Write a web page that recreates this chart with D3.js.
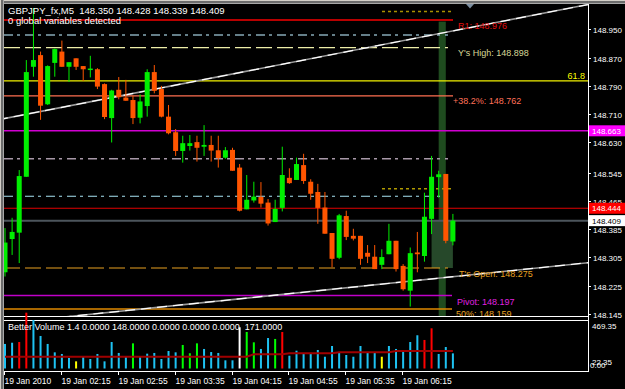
<!DOCTYPE html>
<meta charset="utf-8">
<style>
body { margin: 0; background: #000; }
svg { display: block; }
text { font-family: "Liberation Sans", Arial, sans-serif; font-size: 8px; fill: #fff; white-space: pre; }
</style>
<svg width="625" height="389"></svg>
<script src="https://cdn.jsdelivr.net/npm/d3@7"></script>
<script>

// ---- data ----
var symbol = "GBPJPY_fx,M5";

var open  = [148.263,148.357,148.375,148.533,148.844,148.877,148.738,148.855,148.887,148.844,148.868,148.846,148.835,148.837,148.795,148.699,
             148.779,148.757,148.750,148.700,148.733,148.829,148.781,148.703,148.659,148.606,148.620,148.631,148.618,148.623,148.608,148.587,
             148.609,148.559,148.441,148.466,148.476,148.460,148.405,148.445,148.530,148.524,148.566,148.519,148.490,148.446,148.374,148.304,
             148.422,148.366,148.366,148.318,148.307,148.284,148.314,148.352,148.281,148.211,148.319,148.309,148.414,148.532,148.541,148.350];
var high  = [148.388,148.417,148.552,148.863,149.010,148.887,148.848,148.896,148.918,148.857,148.868,148.846,148.875,148.840,148.797,148.779,
             148.815,148.807,148.762,148.766,148.837,148.849,148.790,148.736,148.668,148.649,148.651,148.649,148.679,148.649,148.649,148.617,
             148.615,148.569,148.538,148.519,148.518,148.470,148.468,148.618,148.557,148.587,148.598,148.526,148.513,148.490,148.374,148.428,
             148.437,148.386,148.366,148.340,148.340,148.328,148.400,148.352,148.286,148.333,148.377,148.488,148.592,148.550,148.541,148.428];
var low   = [148.251,148.312,148.289,148.533,148.816,148.694,148.736,148.816,148.844,148.801,148.835,148.804,148.814,148.781,148.696,148.630,
             148.752,148.748,148.682,148.684,148.703,148.769,148.701,148.653,148.592,148.573,148.607,148.576,148.592,148.576,148.559,148.584,
             148.550,148.435,148.441,148.460,148.446,148.395,148.405,148.435,148.513,148.524,148.513,148.468,148.400,148.372,148.277,148.300,
             148.354,148.353,148.284,148.289,148.272,148.272,148.314,148.265,148.211,148.166,148.263,148.293,148.371,148.474,148.345,148.339];
var close = [148.347,148.377,148.535,148.829,148.863,148.734,148.846,148.894,148.844,148.857,148.844,148.837,148.839,148.788,148.702,148.777,
             148.758,148.748,148.699,148.746,148.829,148.776,148.703,148.656,148.606,148.628,148.628,148.615,148.623,148.607,148.586,148.608,
             148.550,148.437,148.468,148.477,148.457,148.401,148.442,148.538,148.515,148.569,148.521,148.485,148.445,148.372,148.301,148.424,
             148.363,148.358,148.301,148.307,148.272,148.306,148.352,148.272,148.215,148.317,148.314,148.420,148.533,148.540,148.352,148.409];

var volume = [240,252,259,546,474,318,240,158,142,103,70,115,93,142,70,259,
              152,115,246,115,145,152,93,171,158,230,149,246,191,161,152,80,
              80,403,357,256,191,298,289,357,125,174,145,142,181,115,220,155,
              132,115,220,155,155,115,220,191,161,259,325,279,393,142,210,148];
var volType = ["b","b","r","r","b","b","b","b","b","b","y","b","b","b","b","b",
               "b","b","g","b","b","b","b","b","b","g","g","g","b","b","b","b",
               "b","w","g","g","b","b","g","r","b","b","b","b","b","b","b","b",
               "b","b","b","b","b","y","b","b","b","b","b","r","r","b","b","b"];
var volAvg = [115,115,115,115,115,115,115,115,115,115,115,115,115,115,115,115,
              115,115,115,115,115,115,115,115,115,115,115,115,115,115,115,115,
              115,115,115,139,139,139,139,139,149,149,149,149,149,149,149,158,
              158,158,158,158,158,158,158,171,171,171,171,171,171,171,171,171];
var volMax = 469.35;

var timeLabels = ["19 Jan 2010","19 Jan 02:15","19 Jan 02:55","19 Jan 03:35","19 Jan 04:15","19 Jan 04:55","19 Jan 05:35","19 Jan 06:15"];
var timeLabelBars = [0, 8, 16, 24, 32, 40, 48, 56];

var priceTicks = ["148.950","148.870","148.790","148.710","148.630","148.545","148.465","148.385","148.305","148.225","148.145"];

var levelNames  = ["R1","ddTop","YsHigh","fib618","fib382","magenta","ddMid","dotTop","dotLow","ddLow","ask","bid","TsOpen","Pivot","fib50"];
var levelPrices = [148.976,148.934,148.898,148.804,148.762,148.663,148.584,149.000,148.499,148.478,148.444,148.409,148.275,148.197,148.159];
var levelTexts  = ["R1: 148.976","","Y's High: 148.898","61.8","+38.2%: 148.762","","","","","","","","T's Open: 148.275","Pivot: 148.197","50%: 148.159"];

// trend lines: [bar, price] end points
var trendUpper = [[-1, 148.694], [82, 149.020]];
var trendLower = [[-1, 148.117], [82, 148.290]];

// ---- drawing ----
var svg = d3.select("svg");
svg.append("rect").attr("width", 625).attr("height", 389).attr("fill", "#000");

var x = d3.scaleLinear().domain([0, 63]).range([5, 452.9]);
var y = d3.scaleLinear().domain([148.145, 148.950]).range([314, 29.3]);
var yv = d3.scaleLinear().domain([0, volMax]).range([368.5, 320.5]);

var price = {};
levelNames.forEach(function(n, i) { price[n] = levelPrices[i]; });

svg.append("clipPath").attr("id", "main").append("rect")
    .attr("x", 4).attr("y", 4).attr("width", 584).attr("height", 312);
var main = svg.append("g").attr("clip-path", "url(#main)");

// current bar highlight and the open-to-last box
main.append("rect").attr("x", x(61)).attr("width", x(62) - x(61))
    .attr("y", y(price.R1) + 1.5).attr("height", 316 - y(price.R1))
    .attr("fill", "#1f4b1f");
main.append("rect").attr("x", x(60)).attr("width", x(63) - x(60))
    .attr("y", y(price.bid)).attr("height", y(price.TsOpen) - y(price.bid))
    .attr("fill", "#26482a");

var levelStyle = {
  R1:      {x1: 4,   x2: 453, c: "#b80000", w: 2},
  ddTop:   {x1: 4,   x2: 448, c: "#86a9b6", w: 1.5, d: "9,4,3,5"},
  YsHigh:  {x1: 4,   x2: 448, c: "#eeeea8", w: 1.2, d: "16,5"},
  fib618:  {x1: 4,   x2: 588, c: "#f0f000", w: 1.2},
  fib382:  {x1: 4,   x2: 453, c: "#ff6f50", w: 1.2},
  magenta: {x1: 4,   x2: 588, c: "#d000d0", w: 1.5},
  ddMid:   {x1: 4,   x2: 448, c: "#a898a8", w: 1.5, d: "9,4,3,5"},
  dotTop:  {x1: 382, x2: 453, c: "#a89000", w: 1.5, d: "3,3"},
  dotLow:  {x1: 382, x2: 453, c: "#b09a00", w: 1.5, d: "3,3"},
  ddLow:   {x1: 4,   x2: 448, c: "#a8e4f4", w: 1.2, d: "9,4,3,5"},
  ask:     {x1: 4,   x2: 588, c: "#e00000", w: 1},
  bid:     {x1: 4,   x2: 588, c: "#4c555c", w: 2},
  TsOpen:  {x1: 4,   x2: 448, c: "#e8a020", w: 1.2, d: "16,5"},
  Pivot:   {x1: 4,   x2: 452, c: "#c000c8", w: 1.5},
  fib50:   {x1: 4,   x2: 452, c: "#e08a00", w: 1.5}
};

levelNames.forEach(function(n) {
  var s = levelStyle[n];
  main.append("line")
      .attr("x1", s.x1).attr("x2", s.x2)
      .attr("y1", y(price[n])).attr("y2", y(price[n]))
      .attr("stroke", s.c).attr("stroke-width", s.w)
      .attr("stroke-dasharray", s.d || null);
});

// trend lines
var tline = d3.line().x(function(d) { return x(d[0]); }).y(function(d) { return y(d[1]); });
[trendUpper, trendLower].forEach(function(t) {
  main.append("path").attr("d", tline(t)).attr("fill", "none")
      .attr("stroke", "#9a9a9a").attr("stroke-width", 1.6);
  main.append("path").attr("d", tline(t)).attr("fill", "none")
      .attr("stroke", "#ffffff").attr("stroke-width", 1.2).attr("stroke-dasharray", "10,6");
});

// candles
var bull = "#00ee00", bear = "#ff5500";
var candles = main.selectAll("g.candle").data(d3.range(open.length)).enter().append("g");
candles.append("line")
    .attr("x1", function(i) { return x(i); }).attr("x2", function(i) { return x(i); })
    .attr("y1", function(i) { return y(high[i]); }).attr("y2", function(i) { return y(low[i]); })
    .attr("stroke", function(i) { return close[i] >= open[i] ? bull : bear; })
    .attr("stroke-width", 1);
candles.append("rect")
    .attr("x", function(i) { return x(i) - 2.5; }).attr("width", 5)
    .attr("y", function(i) { return y(Math.max(open[i], close[i])); })
    .attr("height", function(i) { return Math.max(1.5, Math.abs(y(open[i]) - y(close[i]))); })
    .attr("fill", function(i) { return close[i] >= open[i] ? bull : bear; });

// level labels
var labelStyle = {
  R1:     {x: 458, dy: 9,   c: "#e01010"},
  YsHigh: {x: 458, dy: 8.5, c: "#d8d898"},
  fib618: {x: 585, dy: -2,  c: "#ffff00", a: "end"},
  fib382: {x: 453, dy: 8.5, c: "#ff7058"},
  TsOpen: {x: 459, dy: 9,   c: "#e8a020"},
  Pivot:  {x: 457, dy: 9.5, c: "#e020e0"},
  fib50:  {x: 456, dy: 8,   c: "#e8a020"}
};
levelNames.forEach(function(n, i) {
  var s = labelStyle[n];
  if (!s) return;
  main.append("text").attr("x", s.x).attr("y", y(price[n]) + s.dy)
      .attr("text-anchor", s.a || "start")
      .style("fill", s.c).style("font-size", "9px")
      .text(levelTexts[i]);
});

// chart shift marker
svg.append("path").attr("d", "M466,4 L474,4 L470,8.5 Z").attr("fill", "#7c8ea0");

// window frames
svg.append("rect").attr("x", 0).attr("y", 0).attr("width", 625).attr("height", 3.5).attr("fill", "#6c6c6c");
svg.append("line").attr("x1", 0).attr("x2", 625).attr("y1", 0.5).attr("y2", 0.5).attr("stroke", "#d4d0c8");
svg.append("line").attr("x1", 0).attr("x2", 625).attr("y1", 3.5).attr("y2", 3.5).attr("stroke", "#a8a8a8");
svg.append("rect").attr("x", 0).attr("y", 0).attr("width", 3.5).attr("height", 389).attr("fill", "#6c6c6c");
svg.append("line").attr("x1", 0.5).attr("x2", 0.5).attr("y1", 0).attr("y2", 389).attr("stroke", "#d4d0c8");
svg.append("line").attr("x1", 3.5).attr("x2", 3.5).attr("y1", 0).attr("y2", 389).attr("stroke", "#a8a8a8");

var frame = svg.append("g").attr("stroke", "#fff").attr("stroke-width", 1).attr("fill", "none");
frame.append("line").attr("x1", 4).attr("x2", 588).attr("y1", 316.5).attr("y2", 316.5);
frame.append("line").attr("x1", 4).attr("x2", 588).attr("y1", 320.5).attr("y2", 320.5);
frame.append("line").attr("x1", 4).attr("x2", 588).attr("y1", 371.5).attr("y2", 371.5);
frame.append("line").attr("x1", 588.5).attr("x2", 588.5).attr("y1", 4).attr("y2", 372);

// price axis
var yAxis = svg.append("g");
priceTicks.forEach(function(t) {
  var yy = Math.round(y(+t)) + 0.5;
  yAxis.append("line").attr("x1", 588).attr("x2", 591).attr("y1", yy).attr("y2", yy).attr("stroke", "#fff");
  yAxis.append("text").attr("x", 593).attr("y", yy + 3).text(t);
});

// price boxes on the axis
var boxStyle = {magenta: {bg: "#ff00ff", fg: "#ffffff"}, ask: {bg: "#ff0000", fg: "#ffffff"}, bid: {bg: "#ffffff", fg: "#000000"}};
["magenta", "ask", "bid"].forEach(function(n) {
  var yy = y(price[n]);
  yAxis.append("rect").attr("x", 589).attr("y", yy - 5.5).attr("width", 36).attr("height", 11).attr("fill", boxStyle[n].bg);
  yAxis.append("text").attr("x", 592).attr("y", yy + 3).style("fill", boxStyle[n].fg).text(price[n].toFixed(3));
});

// volume subwindow
svg.append("clipPath").attr("id", "sub").append("rect")
    .attr("x", 4).attr("y", 306).attr("width", 584).attr("height", 65);
var sub = svg.append("g").attr("clip-path", "url(#sub)");
var volColor = {b: "#1ec2f2", r: "#ff0000", g: "#00ff00", w: "#ffffff", y: "#ffff00"};
sub.selectAll("rect.vol").data(volume).enter().append("rect")
    .attr("x", function(d, i) { return x(i) - 1; }).attr("width", 2)
    .attr("y", function(d) { return yv(d); })
    .attr("height", function(d) { return yv(0) - yv(d); })
    .attr("fill", function(d, i) { return volColor[volType[i]]; });
sub.append("path")
    .attr("d", d3.line().x(function(d, i) { return x(i); }).y(function(d) { return yv(d); })(volAvg))
    .attr("fill", "none").attr("stroke", "#a00000").attr("stroke-width", 2);

svg.append("text").attr("x", 8).attr("y", 330).style("font-size", "9px")
    .text("Better Volume 1.4 0.0000 " + volume[volume.length - 1].toFixed(4) + " 0.0000 0.0000 0.0000  " + volAvg[volAvg.length - 1].toFixed(4));
svg.append("text").attr("x", 592).attr("y", 329).text(volMax.toFixed(2));
svg.append("text").attr("x", 592).attr("y", 365).text("22.35");
svg.append("text").attr("x", 590).attr("y", 368).text("0.00");

// time axis
timeLabelBars.forEach(function(b, i) {
  var xx = Math.round(x(b)) - 0.5;
  svg.append("line").attr("x1", xx).attr("x2", xx).attr("y1", 371).attr("y2", 375).attr("stroke", "#fff");
  svg.append("text").attr("x", xx).attr("y", 384).style("font-size", "8.5px").text(timeLabels[i]);
});

// header texts
svg.append("text").attr("x", 8).attr("y", 14).style("font-size", "9.5px")
    .text(symbol + "  " + open[63].toFixed(3) + " " + high[63].toFixed(3) + " " + low[63].toFixed(3) + " " + close[63].toFixed(3));
svg.append("text").attr("x", 8).attr("y", 23.5).style("font-size", "9.5px").text("0 global variables detected");

</script>
